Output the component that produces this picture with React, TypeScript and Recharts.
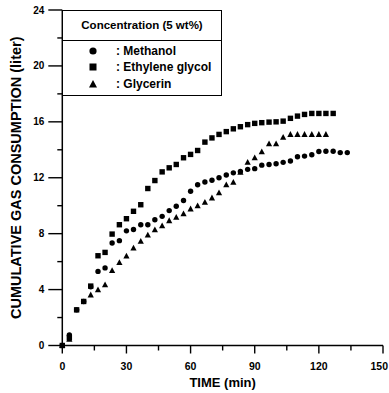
import { Legend, Scatter, ScatterChart, XAxis, YAxis } from 'recharts';

// sampling times (min)
const time = [
  0, 3.3, 6.7, 10, 13.3, 16.7, 20, 23.3, 26.7, 30, 33.3, 36.7, 40, 43.3, 46.7, 50, 53.3, 56.7, 60, 63.3, 66.7,
  70, 73.3, 76.7, 80, 83.3, 86.7, 90, 93.3, 96.7, 100, 103.3, 106.7, 110, 113.3, 116.7, 120, 123.3, 126.7, 130, 133.3,
];

// cumulative gas consumption (liter)
const methanol = [
  0, 0.75, 2.55, 3.15, 4.2, 5.3, 5.55, 7.33, 7.5, 8.2, 8.3, 8.64, 8.64, 9.0, 9.24, 9.65, 9.96, 10.37, 11.03, 11.5, 11.7,
  11.82, 12.0, 12.2, 12.35, 12.45, 12.6, 12.65, 12.9, 12.95, 13.0, 13.1, 13.2, 13.5, 13.55, 13.65, 13.88, 13.9, 13.9, 13.8, 13.8,
];
const ethyleneGlycol = [
  0, 0.55, 2.55, 3.15, 4.25, 6.42, 6.66, 7.97, 8.64, 9.07, 9.6, 10.07, 11.23, 11.8, 12.42, 12.71, 12.95, 13.43, 13.67, 13.95,
  14.55, 14.85, 15.1, 15.3, 15.5, 15.65, 15.8, 15.89, 15.94, 15.98, 16.0, 16.05, 16.25, 16.41, 16.53, 16.6, 16.6, 16.6, 16.6,
];
const glycerin = [
  0, 0.45, null, null, 3.62, 3.98, 4.34, 5.37, 5.94, 6.4, 6.97, 7.45, 7.9, 8.28, 8.57, 8.93, 9.17, 9.43, 9.77, 10.0, 10.24,
  10.56, 10.92, 11.5, 11.68, 12.4, 13.1, 13.43, 13.86, 14.43, 14.43, 14.9, 15.1, 15.1, 15.1, 15.1, 15.1, 15.1,
];

const xTicks = [0, 15, 30, 45, 60, 75, 90, 105, 120, 135, 150];
const yTicks = [0, 2, 4, 6, 8, 10, 12, 14, 16, 18, 20, 22, 24];

const font = '"Liberation Sans", Arial, sans-serif';

const toPoints = (values: (number | null)[]) =>
  values
    .map((v, i) => (v == null ? null : { t: time[i], v }))
    .filter((p) => p !== null) as { t: number; v: number }[];

const Dot = (props: any) => <circle cx={props.cx} cy={props.cy} r={2.7} fill="#000" />;
const Square = (props: any) => <rect x={props.cx - 2.7} y={props.cy - 2.7} width={5.4} height={5.4} fill="#000" />;
const Tri = (props: any) => {
  const { cx, cy } = props;
  return <polygon points={`${cx},${cy - 3.3} ${cx + 3.1},${cy + 2.5} ${cx - 3.1},${cy + 2.5}`} fill="#000" />;
};

const series = [
  { name: 'Glycerin', data: toPoints(glycerin), shape: Tri },
  { name: 'Ethylene glycol', data: toPoints(ethyleneGlycol), shape: Square },
  { name: 'Methanol', data: toPoints(methanol), shape: Dot },
];
const legendOrder = ['Methanol', 'Ethylene glycol', 'Glycerin'];

const YTick = (props: any) => {
  const { x, y, payload } = props;
  const major = payload.value % 4 === 0;
  return (
    <g>
      <line x1={x - (major ? 14 : 5)} x2={x} y1={y} y2={y} stroke="#000" strokeWidth={1.4} />
      {major && (
        <text x={x - 18} y={y} dy="0.35em" textAnchor="end" fontFamily={font} fontWeight="bold" fontSize={10} fill="#000">
          {payload.value}
        </text>
      )}
    </g>
  );
};

const XTick = (props: any) => {
  const { x, y, payload } = props;
  const major = payload.value % 30 === 0;
  // the last label sits at the page edge; anchor it so it stays readable
  const last = payload.value === 150;
  return (
    <g>
      <line x1={x} x2={x} y1={y} y2={y + (major ? 8 : 5)} stroke="#000" strokeWidth={1.4} />
      {major && (
        <text
          x={last ? x + 5 : x}
          y={y + 21}
          dy="0.35em"
          textAnchor={last ? 'end' : 'middle'}
          fontFamily={font}
          fontWeight="bold"
          fontSize={10.5}
          fill="#000"
        >
          {payload.value}
        </text>
      )}
    </g>
  );
};

const LegendMark = ({ name }: { name: string }) => (
  <svg width={10} height={10}>
    {name === 'Methanol' && <circle cx={5} cy={5} r={3.6} fill="#000" />}
    {name === 'Ethylene glycol' && <rect x={1.5} y={1.5} width={7} height={7} fill="#000" />}
    {name === 'Glycerin' && <polygon points="5,1 9,8.5 1,8.5" fill="#000" />}
  </svg>
);

const LegendBox = () => (
  <div
    style={{
      width: 160,
      height: 86,
      boxSizing: 'border-box',
      border: '1.5px solid #000',
      background: '#fff',
      fontFamily: font,
      fontWeight: 'bold',
      color: '#000',
    }}
  >
    <div
      style={{
        height: 29,
        borderBottom: '1.5px solid #000',
        display: 'flex',
        alignItems: 'center',
        justifyContent: 'center',
        fontSize: 11.5,
      }}
    >
      Concentration (5 wt%)
    </div>
    <div style={{ paddingTop: 2 }}>
      {legendOrder.map((name) => (
        <div key={name} style={{ height: 16.5, display: 'flex', alignItems: 'center', fontSize: 12 }}>
          <div style={{ width: 27, paddingLeft: 25, display: 'flex' }}>
            <LegendMark name={name} />
          </div>
          <span style={{ marginLeft: 1 }}>: {name}</span>
        </div>
      ))}
    </div>
  </div>
);

const App = () => {
  return (
    <div style={{ position: 'absolute', left: 0, top: 0, width: 389, height: 393, background: '#fff' }}>
      <ScatterChart width={389} height={393} margin={{ top: 10, right: 6, bottom: 0, left: 0 }}>
        <XAxis
          dataKey="t"
          type="number"
          domain={[0, 150]}
          ticks={xTicks}
          interval={0}
          height={47.5}
          tickSize={0}
          tickMargin={0}
          tickLine={false}
          tick={<XTick />}
          axisLine={{ stroke: '#000', strokeWidth: 1.5 }}
          label={{
            content: ({ viewBox }: any) => (
              <text
                x={viewBox.x + viewBox.width / 2}
                y={382.5}
                dy="0.35em"
                textAnchor="middle"
                fontFamily={font}
                fontWeight="bold"
                fontSize={13}
                fill="#000"
              >
                TIME (min)
              </text>
            ),
          }}
        />
        <YAxis
          dataKey="v"
          type="number"
          domain={[0, 24]}
          ticks={yTicks}
          interval={0}
          width={62.3}
          tickSize={0}
          tickMargin={0}
          tickLine={false}
          tick={<YTick />}
          axisLine={{ stroke: '#000', strokeWidth: 1.5 }}
          label={{
            content: ({ viewBox }: any) => {
              const cx = 16;
              const cy = viewBox.y + viewBox.height / 2;
              return (
                <text
                  x={cx}
                  y={cy}
                  dy="0.35em"
                  textAnchor="middle"
                  transform={`rotate(-90 ${cx} ${cy})`}
                  fontFamily={font}
                  fontWeight="bold"
                  fontSize={14.5}
                  fill="#000"
                >
                  CUMULATIVE GAS CONSUMPTION (liter)
                </text>
              );
            },
          }}
        />
        <XAxis
          xAxisId="top"
          orientation="top"
          type="number"
          domain={[0, 150]}
          height={0}
          tick={false}
          tickLine={false}
          axisLine={{ stroke: '#000', strokeWidth: 1.5 }}
        />
        <YAxis
          yAxisId="right"
          orientation="right"
          type="number"
          domain={[0, 24]}
          width={0}
          tick={false}
          tickLine={false}
          axisLine={{ stroke: '#000', strokeWidth: 1.5 }}
        />
        {series.map((s) => (
          <Scatter key={s.name} name={s.name} data={s.data} shape={s.shape} isAnimationActive={false} />
        ))}
        <Legend
          layout="vertical"
          align="center"
          verticalAlign="middle"
          wrapperStyle={{ top: 9.5, left: 62, width: 160, height: 86 }}
          content={<LegendBox />}
        />
      </ScatterChart>
    </div>
  );
};

export default App;
